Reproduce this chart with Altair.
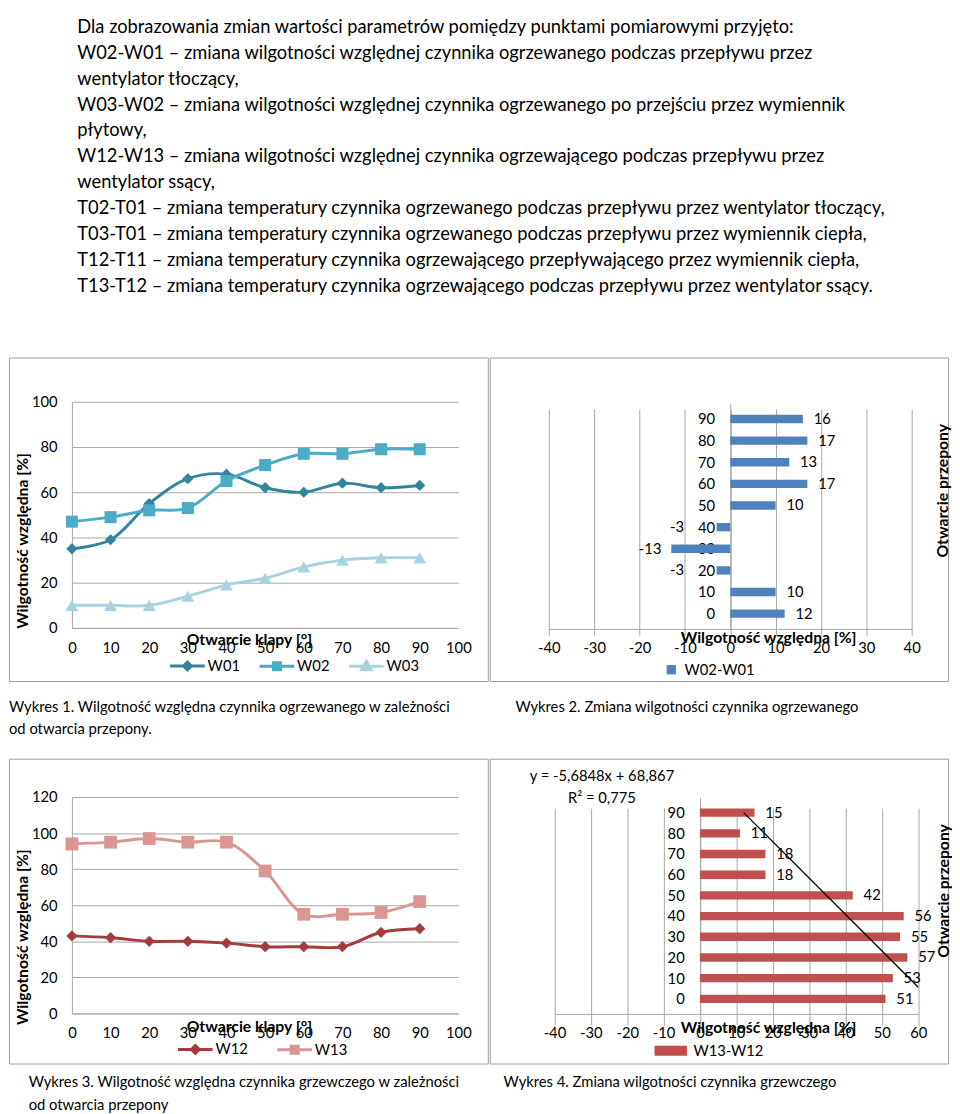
import altair as alt
import pandas as pd

FONT = "Lato"
INK = "#000000"
GRID = "#A6A6A6"
FRAME = "#9C9C9C"

# ---------------- text ----------------
paragraph = [
    "Dla zobrazowania zmian wartości parametrów pomiędzy punktami pomiarowymi przyjęto:",
    "W02-W01 – zmiana wilgotności względnej czynnika ogrzewanego podczas przepływu przez",
    "wentylator tłoczący,",
    "W03-W02 – zmiana wilgotności względnej czynnika ogrzewanego po przejściu przez wymiennik",
    "płytowy,",
    "W12-W13 – zmiana wilgotności względnej czynnika ogrzewającego podczas przepływu przez",
    "wentylator ssący,",
    "T02-T01 – zmiana temperatury czynnika ogrzewanego podczas przepływu przez wentylator tłoczący,",
    "T03-T01 – zmiana temperatury czynnika ogrzewanego podczas przepływu przez wymiennik ciepła,",
    "T12-T11 – zmiana temperatury czynnika ogrzewającego przepływającego przez wymiennik ciepła,",
    "T13-T12 – zmiana temperatury czynnika ogrzewającego podczas przepływu przez wentylator ssący.",
]
caption1 = ["Wykres 1. Wilgotność względna czynnika ogrzewanego w zależności", "od otwarcia przepony."]
caption2 = ["Wykres 2. Zmiana wilgotności czynnika ogrzewanego"]
caption3 = ["Wykres 3. Wilgotność względna czynnika grzewczego w zależności", "od otwarcia przepony"]
caption4 = ["Wykres 4. Zmiana wilgotności czynnika grzewczego"]
title_open = "Otwarcie klapy [°]"
title_hum = "Wilgotność względna [%]"
title_przep = "Otwarcie przepony"
equation = ["y = -5,6848x + 68,867", "R² = 0,775"]

# ---------------- data ----------------
opening = [0, 10, 20, 30, 40, 50, 60, 70, 80, 90]
w01 = [35, 39, 55, 66, 68, 62, 60, 64, 62, 63]
w02 = [47, 49, 52, 53, 65, 72, 77, 77, 79, 79]
w03 = [10, 10, 10, 14, 19, 22, 27, 30, 31, 31]
w12 = [43, 42, 40, 40, 39, 37, 37, 37, 45, 47]
w13 = [94, 95, 97, 95, 95, 79, 55, 55, 56, 62]
w02_w01 = [12, 10, -3, -13, -3, 10, 17, 13, 17, 16]
w13_w12 = [51, 53, 57, 55, 56, 42, 18, 18, 11, 15]

x_ticks_open = [0, 10, 20, 30, 40, 50, 60, 70, 80, 90, 100]
y_ticks_1 = [0, 20, 40, 60, 80, 100]
y_ticks_3 = [0, 20, 40, 60, 80, 100, 120]
x_ticks_2 = [-40, -30, -20, -10, 0, 10, 20, 30, 40]
x_ticks_4 = [-40, -30, -20, -10, 0, 10, 20, 30, 40, 50, 60]

# ---------------- layout (page pixels) ----------------
ORG = 8
T1, B1 = 355, 684
T2, B2 = 754, 1064
XS, XR = 495, 961
W1, W2 = XS - ORG, XR - XS

LEG_PATHS = {
    "diamond": "M-2.2,0H2.2M0,-0.5L0.5,0L0,0.5L-0.5,0Z",
    "square": "M-2.2,0H2.2M-0.45,-0.45H0.45V0.45H-0.45Z",
    "triangle-up": "M-2.2,0H2.2M0,-0.6L0.6,0.45H-0.6Z",
}

INDEP = dict(color="independent", fill="independent", stroke="independent",
             shape="independent", size="independent")


def caption_title(lines, dx, offset):
    return alt.TitleParams(text=lines, orient="bottom", anchor="start", font=FONT,
                           fontSize=15, fontWeight="normal", color=INK,
                           lineHeight=23, offset=offset, dx=dx)


def line_panel(names, series, colors, shapes, sizes, top, bottom, ymax, yticks,
               y0_px, ymax_px, xtitle_y, xlab_pad, ytitle_y, leg_x, leg_y,
               col_pad, caption, cap_dx, cap_off):
    rows = []
    for n, vals in zip(names, series):
        for k, v in zip(opening, vals):
            rows.append({"k": k, "v": v, "s": n})
    df = pd.DataFrame(rows)
    H = bottom - top
    xs = alt.Scale(domain=[0, 100], range=[72 - ORG, 465 - ORG], nice=False, zero=False)
    ys = alt.Scale(domain=[0, ymax], range=[y0_px - top, ymax_px - top], nice=False, zero=False)
    X = alt.X("k:Q", scale=xs, axis=alt.Axis(
        values=x_ticks_open, orient="bottom", offset=y0_px - bottom, grid=False,
        labelPadding=xlab_pad, title=title_open, titleX=252 - ORG,
        titleY=xtitle_y - y0_px, titleBaseline="middle", titleAlign="center"))
    Y = alt.Y("v:Q", scale=ys, axis=alt.Axis(
        values=yticks, orient="left", offset=-(72 - ORG), grid=True,
        labelPadding=15, title=title_hum, titleX=22 - 72, titleY=ytitle_y - top,
        titleAngle=270, titleBaseline="middle", titleAlign="center"))
    cscale = alt.Scale(domain=names, range=colors)
    lines = alt.Chart(df).mark_line(strokeWidth=3, interpolate="catmull-rom").encode(
        x=X, y=Y, color=alt.Color("s:N", scale=cscale, legend=None), detail="s:N")
    pts = alt.Chart(df).mark_point(filled=True, opacity=1).encode(
        x=X, y=Y,
        color=alt.Color("s:N", scale=cscale, legend=None),
        shape=alt.Shape("s:N", scale=alt.Scale(domain=names, range=shapes), legend=None),
        size=alt.Size("s:N", scale=alt.Scale(domain=names, range=sizes), legend=None))
    leg = alt.Legend(title=None, orient="none", legendX=leg_x - ORG, legendY=leg_y - top - 8,
                     direction="horizontal", symbolSize=256, symbolStrokeWidth=3,
                     labelOffset=11, columnPadding=col_pad, padding=0,
                     labelFont=FONT, labelFontSize=15, labelColor=INK)
    leg_layer = alt.Chart(df).mark_point(filled=True, opacity=1, strokeWidth=3).encode(
        fill=alt.Fill("s:N", scale=alt.Scale(domain=names, range=colors), legend=leg),
        stroke=alt.Stroke("s:N", scale=alt.Scale(domain=names, range=colors), legend=leg),
        shape=alt.Shape("s:N", scale=alt.Scale(domain=names, range=[LEG_PATHS[s] for s in shapes]), legend=leg),
    ).transform_filter("false")
    return alt.layer(lines, pts, leg_layer).resolve_scale(**INDEP).properties(
        width=W1, height=H, title=caption_title(caption, cap_dx, cap_off))


def bar_panel(name, vals, color, top, bottom, xdom, xticks, x0_px, x1_px, ybot_px, ytop_px,
              yaxis_px, xaxis_py, xtitle_px, xtitle_py, rtitle_px, rtitle_py,
              leg_left, leg_cy, sym_type, sym_size, lab_off, caption, cap_dx, cap_off, extra=()):
    left = XS
    df = pd.DataFrame({"cat": opening, "v": vals, "s": [name] * len(vals)})
    H = bottom - top
    xs = alt.Scale(domain=xdom, range=[x0_px - left, x1_px - left], nice=False, zero=False)
    ys = alt.Scale(domain=[-5, 95], range=[ybot_px - top, ytop_px - top], nice=False, zero=False)
    xaxis = alt.Axis(values=xticks, orient="bottom", offset=xaxis_py - bottom, grid=True,
                     labelPadding=12, labelExpr="'' + datum.value", title=title_hum,
                     titleX=xtitle_px - left, titleY=xtitle_py - xaxis_py,
                     titleBaseline="middle", titleAlign="center")
    yaxis = alt.Axis(values=opening, orient="left", offset=-(yaxis_px - left), grid=False,
                     labelPadding=16, format="d", title=title_przep,
                     titleX=rtitle_px - yaxis_px, titleY=rtitle_py - top, titleAngle=270,
                     titleBaseline="middle", titleAlign="center")
    X = lambda f: alt.X(f, scale=xs, axis=xaxis)
    Y = lambda f: alt.Y(f, scale=ys, axis=yaxis)
    bars = alt.Chart(df).mark_bar(orient="horizontal", size=8.5).encode(
        x=X("v:Q"), y=Y("cat:Q"),
        color=alt.Color("s:N", scale=alt.Scale(domain=[name], range=[color]), legend=alt.Legend(
            title=None, orient="none", legendX=leg_left - left, legendY=leg_cy - top - 8,
            symbolType=sym_type, symbolSize=sym_size, labelOffset=lab_off, padding=0,
            labelFont=FONT, labelFontSize=15, labelColor=INK)))
    pos = alt.Chart(df).transform_filter("datum.v >= 0").mark_text(
        align="left", baseline="middle", dx=11, font=FONT, fontSize=15, color=INK).encode(
        x=X("v:Q"), y=Y("cat:Q"), text="v:N")
    neg = alt.Chart(df).transform_filter("datum.v < 0").transform_calculate(
        lx="min(datum.v, -8)").mark_text(
        align="right", baseline="middle", dx=-10, font=FONT, fontSize=15, color=INK).encode(
        x=X("lx:Q"), y=Y("cat:Q"), text="v:N")
    layers = [bars, pos, neg]
    for fn in extra:
        layers.append(fn(df, X, Y, left, top))
    return alt.layer(*layers).properties(width=W2, height=H,
                                         title=caption_title(caption, cap_dx, cap_off))


def trend_layer(df, X, Y, left, top):
    return alt.Chart(df).transform_calculate(idx="datum.cat / 10 + 1").transform_regression(
        "idx", "v", method="linear", params=True
    ).transform_calculate(
        a="datum.coef[0]", b="datum.coef[1]"
    ).transform_calculate(
        v_top="datum.a + datum.b * 10", v_bot="min(60, datum.a + datum.b)"
    ).transform_calculate(
        c_top="90", c_bot="((datum.v_bot - datum.a) / datum.b - 1) * 10"
    ).mark_rule(color="black", strokeWidth=1.3).encode(
        x=X("v_bot:Q"), x2="v_top:Q", y=Y("c_bot:Q"), y2="c_top:Q")


def equation_layer(df, X, Y, left, top):
    return alt.Chart(pd.DataFrame({"t": [0]})).mark_text(
        align="center", baseline="top", font=FONT, fontSize=15, color=INK, lineHeight=22,
        text=equation).encode(x=alt.value(609 - left), y=alt.value(765 - top))


c1 = line_panel(["W01", "W02", "W03"], [w01, w02, w03], ["#31859C", "#4BACC6", "#A9D2E0"],
                ["diamond", "square", "triangle-up"], [130, 170, 170],
                T1, B1, 100, y_ticks_1, 630, 400, 642, 13, 541, 180, 667, 13, caption1, 0, 19)
c3 = line_panel(["W12", "W13"], [w12, w13], ["#A33D3C", "#DB9694"],
                ["diamond", "square"], [130, 170],
                T2, B2, 120, y_ticks_3, 1013, 793, 1026, 13, 935, 188, 1048, 23, caption3, 20, 12)
c2 = bar_panel("W02-W01", w02_w01, "#4F81BD", T1, B1, [-40, 40], x_ticks_2, 555, 924, 631.5, 401.5,
               739.5, 631, 778, 640, 955, 490, 672, 673, "square", 90, 6, caption2, 26, 19)
c4 = bar_panel("W13-W12", w13_w12, "#C0504D", T2, B2, [-40, 60], x_ticks_4, 560.7, 930.7, 1013.7, 793.3,
               708.7, 1013.5, 778, 1027, 956, 888, 668, 1048,
               "M-1.65,-0.5H1.65V0.5H-1.65Z", 400, 12, caption4, 14, 12,
               extra=(trend_layer, equation_layer))

row1 = alt.hconcat(c1, c2, spacing=0).resolve_scale(**INDEP)
row2 = alt.hconcat(c3, c4, spacing=0).resolve_scale(**INDEP)

chart = alt.vconcat(row1, row2, spacing=20).resolve_scale(**INDEP).properties(
    padding=0,
    title=alt.TitleParams(text=paragraph, anchor="start", font=FONT, fontSize=18.6,
                          fontWeight="normal", color=INK, lineHeight=26.3, dx=70, offset=63),
).configure_view(stroke=FRAME, strokeWidth=1).configure_axis(
    labelFont=FONT, labelFontSize=15, labelColor=INK, titleFont=FONT, titleFontSize=16,
    titleFontWeight="bold", titleColor=INK, ticks=False, tickSize=0, domainColor=GRID,
    domainWidth=1, gridColor=GRID, gridWidth=1, labelOverlap=False, labelFlush=False,
).configure_legend(labelFont=FONT, labelFontSize=15, labelColor=INK, padding=0)

chart.save("out.html", embed_options={"renderer": "svg", "actions": False})
